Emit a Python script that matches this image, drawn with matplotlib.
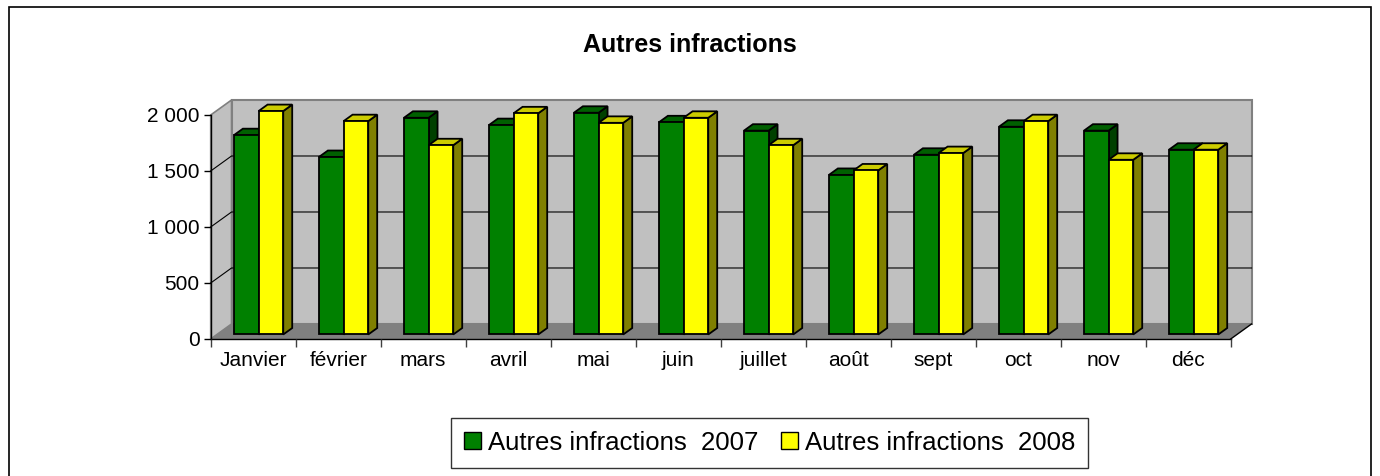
import matplotlib.pyplot as plt
from matplotlib.patches import Polygon, Patch, Rectangle

plt.rcParams['font.family'] = ['Liberation Sans', 'DejaVu Sans']

# données
mois = ["Janvier", "février", "mars", "avril", "mai", "juin",
        "juillet", "août", "sept", "oct", "nov", "déc"]
val_2007 = [1780, 1585, 1935, 1870, 1980, 1895, 1820, 1425, 1605, 1855, 1820, 1650]
val_2008 = [1995, 1905, 1690, 1975, 1890, 1935, 1690, 1465, 1620, 1905, 1560, 1650]
yticks = [0, 500, 1000, 1500, 2000]
ytick_labels = ["0", "500", "1 000", "1 500", "2 000"]
series = ["Autres infractions  2007", "Autres infractions  2008"]

# couleurs (face avant, dessus, côté)
c_2007 = ("#008000", "#006000", "#004000")
c_2008 = ("#FFFF00", "#CCCC00", "#808000")

# pseudo 3D : décalage de profondeur en unités de données
DX = 0.245   # en catégories
DY = 134     # en valeurs
d0, d1 = 0.3, 0.73   # profondeur avant / arrière des barres
bw = 0.29            # largeur d'une barre
off = 0.2            # décalage depuis le début de la catégorie

fig = plt.figure(figsize=(13.8, 4.76), dpi=100)
W, H = 1380, 476
ax = fig.add_axes([210.7 / W, 1 - 339 / H, 1020 / W, 224 / H])
ax.set_xlim(0, 12)
ax.set_ylim(0, 2000)
ax.patch.set_visible(False)


def P(x, y, d):
    return (x + d * DX, y + d * DY)


# murs et sol
n = len(mois)
ax.add_patch(Polygon([P(0, 0, 1), P(n, 0, 1), P(n, 2000, 1), P(0, 2000, 1)],
                     closed=True, fc="#C0C0C0", ec="#808080", lw=1.5, clip_on=False, zorder=0))
ax.add_patch(Polygon([P(0, 0, 0), P(0, 0, 1), P(0, 2000, 1), P(0, 2000, 0)],
                     closed=True, fc="#C0C0C0", ec="#808080", lw=1.2, clip_on=False, zorder=0))
ax.add_patch(Polygon([P(0, 0, 0), P(n, 0, 0), P(n, 0, 1), P(0, 0, 1)],
                     closed=True, fc="#808080", ec="none", clip_on=False, zorder=0.5))
for v in yticks[1:-1]:
    xs, ys = zip(P(0, v, 0), P(0, v, 1), P(n, v, 1))
    ax.plot(xs, ys, color="black", lw=0.8, clip_on=False, zorder=0.6)
# diagonale du sol à droite
xs, ys = zip(P(n, 0, 0), P(n, 0, 1))
ax.plot(xs, ys, color="black", lw=1, clip_on=False, zorder=0.6)


def bar3d(x0, v, cols):
    front, top, side = cols
    kw = dict(closed=True, ec="black", lw=1.3, clip_on=False, zorder=2, joinstyle="miter")
    ax.add_patch(Polygon([P(x0 + bw, 0, d0), P(x0 + bw, 0, d1), P(x0 + bw, v, d1), P(x0 + bw, v, d0)],
                         fc=side, **kw))
    ax.add_patch(Polygon([P(x0, v, d0), P(x0 + bw, v, d0), P(x0 + bw, v, d1), P(x0, v, d1)],
                         fc=top, **kw))
    ax.add_patch(Polygon([P(x0, 0, d0), P(x0 + bw, 0, d0), P(x0 + bw, v, d0), P(x0, v, d0)],
                         fc=front, **kw))


for i in range(n):
    bar3d(i + off, val_2007[i], c_2007)
    bar3d(i + off + bw, val_2008[i], c_2008)

# axes
for s in ["top", "right"]:
    ax.spines[s].set_visible(False)
for s in ["left", "bottom"]:
    ax.spines[s].set_color("black")
    ax.spines[s].set_linewidth(1)
    ax.spines[s].set_zorder(1)
ax.set_yticks(yticks)
ax.set_yticklabels(ytick_labels, fontsize=15)
ax.tick_params(axis="y", length=5, width=1, pad=3)
ax.set_xticks(range(n + 1))
ax.set_xticklabels([])
ax.tick_params(axis="x", which="major", length=6, width=1, color="#404040")
ax.set_xticks([i + 0.5 for i in range(n)], minor=True)
ax.set_xticklabels(mois, minor=True, fontsize=15)
ax.tick_params(axis="x", which="minor", length=0, pad=9)

fig.text(0.5, 1 - 45 / H, "Autres infractions", ha="center", va="center",
         fontsize=18, fontweight="bold")

handles = [Patch(fc=c_2007[0], ec="black", lw=1), Patch(fc=c_2008[0], ec="black", lw=1)]
leg = fig.legend(handles, series, loc="upper left", bbox_to_anchor=(451 / W, 1 - 418 / H),
                 ncol=2, fontsize=18.5, frameon=True, fancybox=False, edgecolor="black",
                 handlelength=0.66, handleheight=0.66, handletextpad=0.27,
                 columnspacing=0.9, borderpad=0.5, borderaxespad=0)
leg.get_frame().set_linewidth(1)

# cadre extérieur
fig.patches.append(Rectangle((9 / W, -0.1), 1362 / W, 1.1 - 7 / H, transform=fig.transFigure,
                             fill=False, ec="black", lw=1.2))

fig.savefig("out.png", dpi=100, facecolor="white")
